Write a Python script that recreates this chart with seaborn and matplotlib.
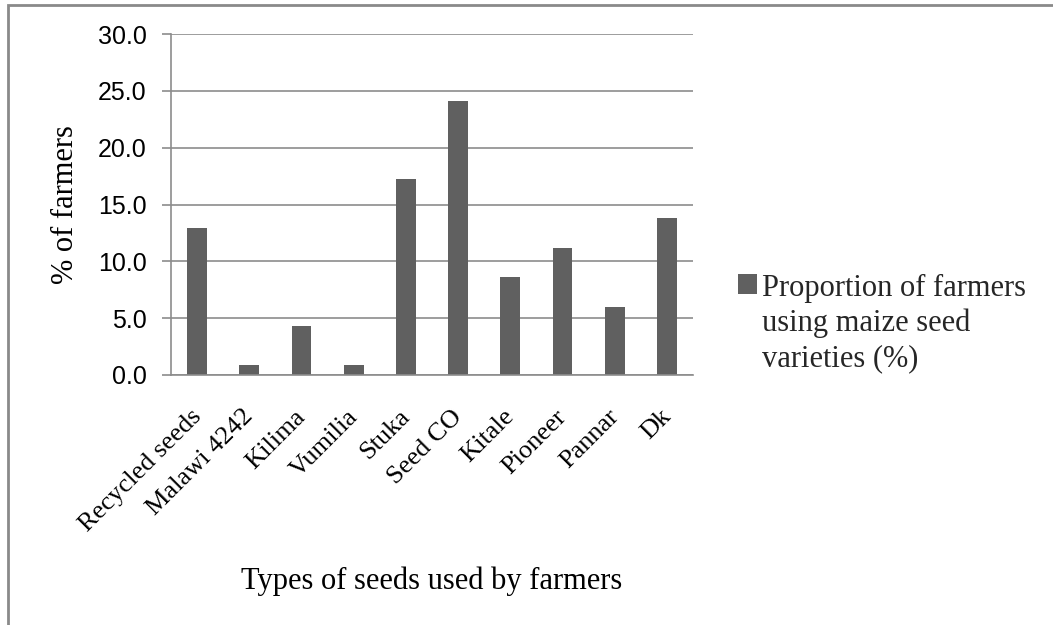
import matplotlib
matplotlib.use("Agg")
import matplotlib.pyplot as plt
import matplotlib.transforms as mtransforms
from matplotlib.patches import Rectangle
import seaborn as sns
import pandas as pd

categories = ["Recycled seeds", "Malawi 4242", "Kilima", "Vumilia", "Stuka",
              "Seed CO", "Kitale", "Pioneer", "Pannar", "Dk"]
values = [12.9, 0.9, 4.3, 0.9, 17.2, 24.1, 8.6, 11.2, 6.0, 13.8]
y_ticks = [0, 5, 10, 15, 20, 25, 30]
series_label = "Proportion of farmers\nusing maize seed\nvarieties (%)"
x_title = "Types of seeds used by farmers"
y_title = "% of farmers"

df = pd.DataFrame({"cat": categories, "val": values})

sns.set_theme(style="white")
plt.rcParams["font.family"] = ["Liberation Serif", "DejaVu Serif"]

W, H = 1053, 625
fig = plt.figure(figsize=(W / 100, H / 100), dpi=100)
ax = fig.add_axes([171 / W, 1 - 375 / H, (693 - 171) / W, (375 - 34) / H])

bar_color = "#606060"
sns.barplot(data=df, x="cat", y="val", color=bar_color, saturation=1,
            width=0.38, ax=ax, label=series_label, edgecolor="none")

grid_c = "#8c8c8c"
ax.set_ylim(0, 30)
ax.set_xlim(-0.5, len(categories) - 0.5)
ax.set_yticks(y_ticks)
ax.set_yticklabels([f"{t:.1f}" for t in y_ticks], fontfamily="Liberation Sans", fontsize=18)
ax.yaxis.grid(True, color=grid_c, linewidth=1.2)
ax.set_axisbelow(True)
for s in ["top", "right"]:
    ax.spines[s].set_visible(False)
for s in ["left", "bottom"]:
    ax.spines[s].set_color(grid_c)
    ax.spines[s].set_linewidth(1.2)
ax.tick_params(axis="y", which="major", left=True, length=6.5, width=1.2,
               color=grid_c, pad=11, labelcolor="black")
ax.tick_params(axis="x", which="major", bottom=False, length=0, pad=22)

ax.set_xticks(range(len(categories)))
ax.set_xticklabels(categories, rotation=45, ha="right", va="top",
                   rotation_mode="anchor", fontsize=19, color="black")
offset = mtransforms.ScaledTranslation(-7 / 100, 0, fig.dpi_scale_trans)
for lab in ax.get_xticklabels():
    lab.set_transform(lab.get_transform() + offset)

ax.set_xlabel(x_title, fontsize=22, color="black")
ax.set_ylabel(y_title, fontsize=22, color="black")
ax.xaxis.set_label_coords(0.5, (375 - 566) / 341)
ax.yaxis.set_label_coords((80 - 171) / 522, 0.5)

leg = ax.legend(loc="upper left", bbox_to_anchor=(738 / W, 1 - 274 / H),
                bbox_transform=fig.transFigure, frameon=False, fontsize=22,
                handlelength=0.62, handleheight=0.62, handletextpad=0.15,
                borderpad=0, borderaxespad=0, labelspacing=0)
for t in leg.get_texts():
    t.set_linespacing(1.26)
for col in leg._legend_handle_box.get_children():
    for hp in col.get_children():
        hp.align = "top"

# outer chart frame (partially cropped in reference)
fig.patches.append(Rectangle((8 / W, -0.1), 1.2, (H - 5) / H + 0.1,
                             transform=fig.transFigure, fill=False,
                             edgecolor="#8a8a8a", linewidth=2, clip_on=False))

fig.savefig("out.png", dpi=100)
